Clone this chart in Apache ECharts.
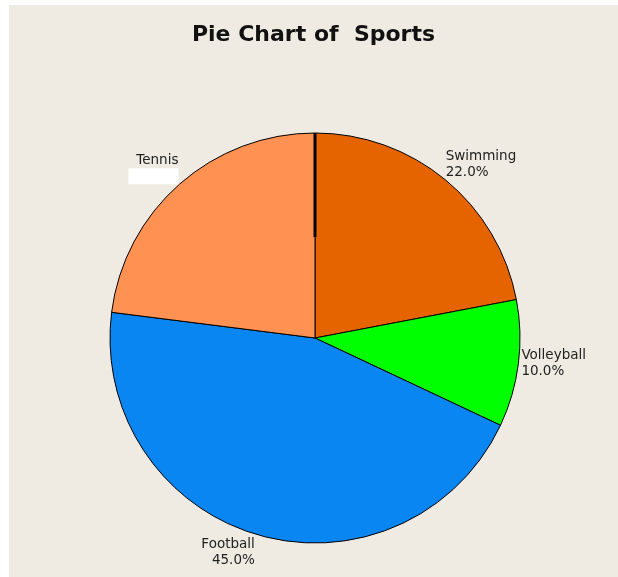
<!DOCTYPE html>
<html>
<head>
<meta charset="utf-8">
<script src="https://cdn.jsdelivr.net/npm/echarts@6/dist/echarts.min.js"></script>
<style>
  html, body { margin: 0; padding: 0; background: #fff; }
  #chart { position: absolute; left: 9px; top: 5px; width: 609px; height: 572px; background: #efebe2; }
</style>
</head>
<body>
<div id="chart"></div>
<script>
// values (percent of total)
const sports = ['Swimming', 'Volleyball', 'Football', 'Tennis'];
const shares = [22, 10, 45, 23];
const sliceColors = ['#e66400', '#00ff00', '#0a86f2', '#ff9152'];
// Tennis shows only its name; its percentage is covered by a white box
const hidePercent = ['Tennis'];

const cx = 306, cy = 333, r = 205;

const chart = echarts.init(document.getElementById('chart'));

chart.setOption({
  animation: false,
  title: {
    text: 'Pie Chart of  Sports',
    left: 'center',
    top: 19,
    padding: 0,
    textStyle: {
      fontFamily: 'DejaVu Sans',
      fontWeight: 'bold',
      fontSize: 22,
      color: '#111'
    }
  },
  series: [
    {
      type: 'pie',
      center: [cx, cy],
      radius: r,
      startAngle: 90,
      clockwise: true,
      avoidLabelOverlap: false,
      itemStyle: { borderColor: '#000', borderWidth: 1 },
      emphasis: { disabled: true },
      label: {
        position: 'outside',
        distanceToLabelLine: 0,
        fontFamily: 'DejaVu Sans',
        fontSize: 13.5,
        lineHeight: 16,
        color: '#222',
        formatter: (p) => hidePercent.includes(p.name)
          ? p.name + '\n{box|}'
          : p.name + '\n' + p.percent.toFixed(1) + '%',
        rich: {
          box: { backgroundColor: '#fff', width: 50, height: 16 }
        }
      },
      labelLine: { show: false, length: 0, length2: 0 },
      labelLayout: (p) => {
        const name = sports[p.dataIndex];
        if (name === 'Swimming') return { align: 'left', verticalAlign: 'bottom', dy: 0 };
        if (name === 'Volleyball') return { align: 'left', verticalAlign: 'middle', dx: 3 };
        if (name === 'Football') return { align: 'right', verticalAlign: 'top', dx: -3, dy: 2 };
        return { align: 'right', verticalAlign: 'bottom', dx: -1, dy: 0 };
      },
      data: sports.map((name, i) => ({
        name: name,
        value: shares[i],
        itemStyle: { color: sliceColors[i] }
      }))
    }
  ],
  graphic: [
    {
      // heavier start edge at 12 o'clock
      type: 'line',
      shape: { x1: cx, y1: cy - r, x2: cx, y2: cy - r + 104 },
      style: { stroke: '#000', lineWidth: 3 },
      z: 10
    }
  ]
});
</script>
</body>
</html>
